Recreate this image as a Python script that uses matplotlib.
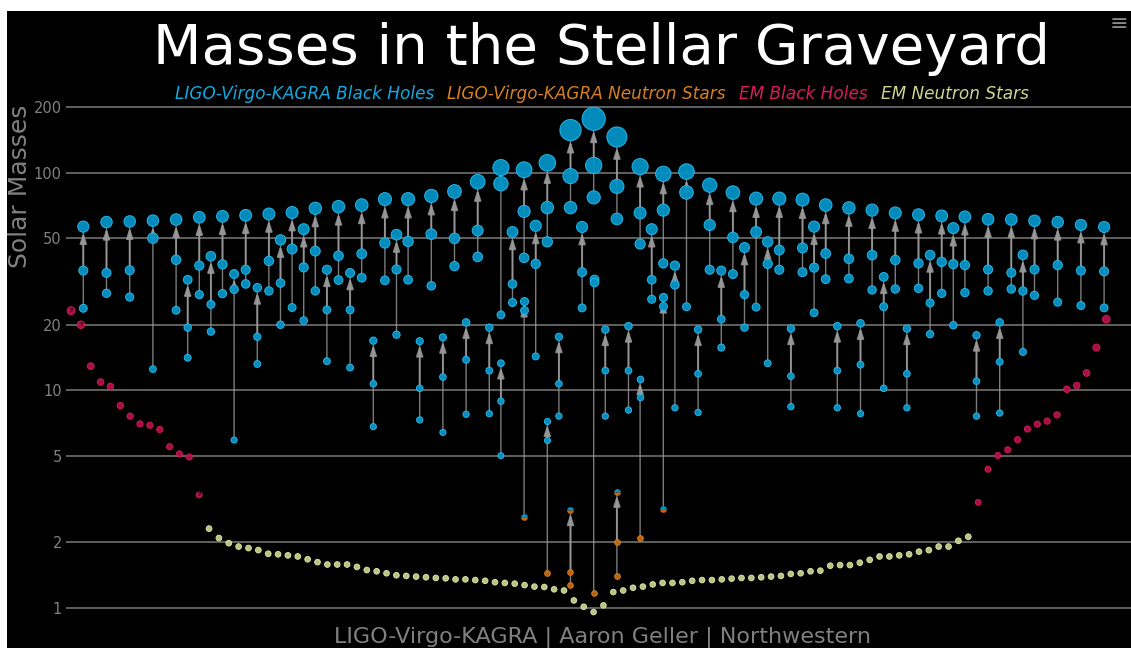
import matplotlib
matplotlib.use("Agg")
import matplotlib.pyplot as plt
import numpy as np
from matplotlib.patches import Rectangle

# ---------------------------------------------------------------------------
# Data (solar masses)
# ---------------------------------------------------------------------------

# LIGO-Virgo-KAGRA binary black holes: order along the x axis, remnant, primary, secondary
bh_order = [0, 2, 4, 6, 8, 9, 10, 11, 12, 13, 14, 15, 16, 17, 18, 19, 20, 21, 22, 23,
            24, 25, 26, 27, 28, 29, 30, 31, 32, 33, 34, 35, 36, 36, 37, 38, 39, 40, 41, 42,
            43, 44, 45, 46, 47, 48, 49, 50, 51, 52, 53, 54, 55, 56, 57, 58, 59, 60, 61, 62,
            63, 64, 65, 66, 67, 68, 69, 70, 71, 72, 73, 74, 75, 76, 77, 78, 79, 80, 81, 82,
            84, 86, 88]
bh_final = [56.5, 59.3, 59.7, 60.2, 60.9, 32.2, 62.4, 41.3, 63.0, 34.2, 63.7, 29.6, 64.6, 49.1,
            65.6, 55.0, 68.6, 35.8, 69.8, 34.6, 71.0, 16.9, 75.6, 51.9, 75.6, 16.8, 78.2, 17.5,
            82.0, 20.5, 90.9, 19.4, 105.6, 13.3, 53.4, 103.2, 57.0, 111.0, 17.6, 157.0, 56.3,
            177.0, 19.0, 146.0, 19.7, 106.6, 55.0, 98.8, 37.4, 101.2, 19.0, 87.6, 35.5, 81.0,
            45.3, 76.0, 48.1, 76.0, 19.2, 75.2, 56.5, 71.0, 19.7, 68.9, 20.3, 67.3, 33.2, 65.3,
            19.2, 64.1, 41.8, 63.3, 55.6, 62.7, 17.9, 61.1, 20.5, 60.9, 41.9, 60.1, 59.3, 57.5,
            56.3]
bh_m1 = [35.5, 34.6, 35.6, 50.0, 39.8, 19.4, 37.4, 24.8, 37.9, 29.1, 35.8, 17.6, 39.3, 31.1,
         44.6, 36.7, 43.6, 23.4, 41.5, 23.4, 42.4, 10.7, 47.5, 35.9, 48.3, 10.2, 52.2, 11.5,
         49.9, 13.8, 54.2, 12.3, 89.0, 8.9, 30.8, 66.4, 38.1, 69.1, 10.7, 96.5, 34.9, 108.0,
         12.3, 86.5, 12.3, 65.3, 32.2, 67.3, 30.5, 81.2, 11.9, 57.5, 21.2, 50.4, 27.5, 53.4,
         38.1, 44.1, 11.6, 45.1, 36.6, 42.5, 12.3, 40.2, 13.1, 41.8, 24.2, 39.7, 11.9, 38.3,
         25.2, 38.9, 38.0, 37.6, 11.0, 35.9, 13.5, 34.7, 28.6, 35.9, 37.6, 35.5, 35.2]
bh_m2 = [23.8, 27.9, 26.8, 12.5, 23.3, 14.1, 27.5, 18.6, 27.8, 5.9, 30.8, 13.2, 28.6, 20.0,
         24.0, 20.9, 28.6, 13.6, 32.1, 12.7, 32.9, 6.8, 32.0, 18.0, 32.2, 7.3, 30.2, 6.4,
         37.2, 7.75, 41.0, 7.8, 22.2, 5.0, 25.3, 40.6, 14.3, 48.1, 7.6, 69.1, 23.9, 77.0,
         7.6, 61.3, 8.1, 47.0, 26.2, 38.3, 8.3, 24.2, 7.9, 35.8, 15.7, 34.2, 19.4, 24.1,
         13.3, 35.8, 8.4, 34.9, 22.7, 32.4, 8.3, 32.6, 7.8, 28.9, 10.2, 29.2, 8.3, 29.4,
         18.1, 27.9, 19.9, 28.1, 7.6, 28.6, 7.85, 29.2, 15.0, 27.3, 25.4, 24.5, 23.9]

# LIGO-Virgo-KAGRA events with a neutron star (or mass-gap object)
ns_order = [38, 40, 42, 44, 46, 48, 50]
ns_final = [25.8, 7.2, 2.8, 32.6, 3.4, 11.25, 26.9]
ns_m1 = [23.4, 5.9, 1.46, 31.3, 2.0, 9.3, 24.4]
ns_m2 = [2.6, 1.44, 1.27, 1.17, 1.4, 2.1, 2.83]
ns_final_kind = ["bh", "bh", "gap", "bh", "gap", "bh", "bh"]
ns_m1_kind = ["bh", "bh", "ns", "bh", "ns", "bh", "bh"]
ns_m2_kind = ["gap", "ns", "ns", "ns", "ns", "ns", "gap"]

# Electromagnetic observations
em_bh_left = [23.2, 20.0, 12.9, 10.9, 10.4, 8.5, 7.6, 7.0, 6.9, 6.6, 5.5, 5.1, 4.93, 3.3]
em_bh_left_uncertain = [True, True, False, False, False, False, False, False, False, False,
                        False, False, False, True]
em_ns = [2.31, 2.09, 1.98, 1.91, 1.88, 1.84, 1.77, 1.76, 1.74, 1.72, 1.67, 1.62, 1.58, 1.58,
         1.58, 1.54, 1.49, 1.47, 1.44, 1.41, 1.40, 1.39, 1.38, 1.37, 1.365, 1.35, 1.35, 1.34,
         1.33, 1.31, 1.30, 1.29, 1.27, 1.25, 1.245, 1.215, 1.20, 1.08, 1.01, 0.955, 1.025,
         1.18, 1.20, 1.235, 1.25, 1.28, 1.30, 1.30, 1.31, 1.33, 1.34, 1.34, 1.35, 1.36, 1.37,
         1.37, 1.38, 1.39, 1.40, 1.43, 1.44, 1.47, 1.48, 1.56, 1.57, 1.57, 1.61, 1.66, 1.72,
         1.72, 1.74, 1.76, 1.81, 1.84, 1.91, 1.91, 2.03, 2.12]
em_bh_right = [3.05, 4.33, 5.01, 5.32, 5.92, 6.63, 6.98, 7.21, 7.7, 10.1, 10.5, 12.0, 15.7, 21.2]

y_ticks = [1, 2, 5, 10, 20, 50, 100, 200]

TITLE = "Masses in the Stellar Graveyard"
FOOTER = "LIGO-Virgo-KAGRA | Aaron Geller | Northwestern"
LEGEND = [
    ("LIGO-Virgo-KAGRA Black Holes", "#14a9de", 175),
    ("LIGO-Virgo-KAGRA Neutron Stars", "#d6801e", 447),
    ("EM Black Holes", "#d81b60", 739),
    ("EM Neutron Stars", "#cdd68f", 881),
]

# ---------------------------------------------------------------------------
# Styling
# ---------------------------------------------------------------------------

W, H = 1131, 648
PX = 72.0 / 100.0  # points per pixel at dpi=100

COLORS = {
    "bh": ("#0393c5", "#27b9ec"),
    "ns": ("#c2670f", "#d9811f"),
    "embh": ("#b0114a", "#cf1a5b"),
    "emns": ("#c3ce8b", "#dbe4a6"),
}
ARROW_COLOR = "#9a9a9a"
GRID_COLOR = "#7a7a7a"
TEXT_GRAY = "#808080"


def diameter_px(mass):
    return 6.5 + 0.1 * np.asarray(mass, dtype=float)


def scatter_points(ax, x, mass, kind, zorder):
    face, edge = COLORS[kind]
    d = diameter_px(mass)
    ax.scatter(x, mass, s=((d - 1.0) * PX) ** 2, facecolors=face, edgecolors=edge,
               linewidths=1.0 * PX, alpha=0.95, zorder=zorder)


def half_point(ax, x, mass, zorder):
    d = float(diameter_px(mass))
    ax.plot([x], [mass], marker="o", ms=d * PX, fillstyle="top", linestyle="none",
            markerfacecolor=COLORS["bh"][0], markerfacecoloralt=COLORS["ns"][0],
            markeredgewidth=0, zorder=zorder)


def draw_arrows(ax, x, final, m1, m2):
    r_pt = float(diameter_px(final)) / 2 * PX
    # secondary: plain line up to the remnant
    ax.annotate("", xy=(x, final), xytext=(x, m2),
                arrowprops=dict(arrowstyle="-", color=ARROW_COLOR, lw=1.0, alpha=0.8,
                                shrinkA=0, shrinkB=r_pt), zorder=2)
    gap_px = 217.5 * np.log10(final / m1)
    if gap_px > float(diameter_px(final)) / 2 + 3:
        style = "-|>,head_length=0.6,head_width=0.2"
    else:
        style = "-"
    ax.annotate("", xy=(x, final), xytext=(x, m1),
                arrowprops=dict(arrowstyle=style, mutation_scale=10, color=ARROW_COLOR,
                                lw=1.4, alpha=0.85, shrinkA=0, shrinkB=r_pt), zorder=2)


fig = plt.figure(figsize=(W / 100, H / 100), dpi=100, facecolor="white")
fig.patches.append(Rectangle((7 / W, 0), 1 - 7 / W, (H - 11) / H, transform=fig.transFigure,
                             facecolor="black", edgecolor="none", zorder=-5))

ax_bottom_px, ax_top_px = 648, 80
ax = fig.add_axes([66 / W, (H - ax_bottom_px) / H, 1 - 66 / W, (ax_bottom_px - ax_top_px) / H])
ax.set_facecolor("black")
ax.set_yscale("log")
ax.set_ylim(10 ** ((607.7 - ax_bottom_px) / 217.5), 10 ** ((607.7 - ax_top_px) / 217.5))
ax.set_xlim(-1.491, 90.319)

ax.set_yticks(y_ticks)
ax.set_yticklabels([str(t) for t in y_ticks])
ax.yaxis.set_minor_locator(matplotlib.ticker.NullLocator())
ax.tick_params(axis="y", length=0, pad=3, labelsize=10.5, labelcolor=TEXT_GRAY)
ax.set_xticks([])
for spine in ax.spines.values():
    spine.set_visible(False)
ax.grid(axis="y", color=GRID_COLOR, linewidth=1.1, zorder=0)
ax.set_axisbelow(True)

# arrows
for x, f, a, b in zip(bh_order, bh_final, bh_m1, bh_m2):
    draw_arrows(ax, x, f, a, b)
for x, f, a, b in zip(ns_order, ns_final, ns_m1, ns_m2):
    draw_arrows(ax, x, f, a, b)

# black hole mergers
scatter_points(ax, bh_order, bh_final, "bh", 4)
scatter_points(ax, bh_order + bh_order, bh_m1 + bh_m2, "bh", 5)

# neutron star events
for x, f, a, b, kf, ka, kb in zip(ns_order, ns_final, ns_m1, ns_m2,
                                  ns_final_kind, ns_m1_kind, ns_m2_kind):
    for mass, kind, z in ((f, kf, 4), (a, ka, 5), (b, kb, 5)):
        if kind == "gap":
            half_point(ax, x, mass, z)
        else:
            scatter_points(ax, [x], [mass], kind, z)

# EM objects, evenly spread along the bottom
em_all = em_bh_left + em_ns + em_bh_right
em_x = np.linspace(-1.06, 88.19, len(em_all))
n_left, n_ns = len(em_bh_left), len(em_ns)
scatter_points(ax, em_x[:n_left], em_bh_left, "embh", 3)
scatter_points(ax, em_x[n_left:n_left + n_ns], em_ns, "emns", 3)
scatter_points(ax, em_x[n_left + n_ns:], em_bh_right, "embh", 3)
for x, m, q in zip(em_x[:n_left], em_bh_left, em_bh_left_uncertain):
    if q:
        ax.text(x, m, "?", ha="center", va="center", fontsize=4.5, color="#2a0010",
                fontweight="bold", zorder=6)

# texts
fig.text(601.5 / W, (H - 64) / H, TITLE, ha="center", va="baseline", fontsize=40.5,
         color="white")
for label, color, left in LEGEND:
    fig.text(left / W, (H - 99) / H, label, ha="left", va="baseline", fontsize=12.2,
             style="italic", color=color)
fig.text(20 / W, (H - 186) / H, "Solar Masses", rotation=90, ha="center", va="center",
         fontsize=18, color=TEXT_GRAY)
fig.text(603 / W, (H - 642.5) / H, FOOTER, ha="center", va="baseline", fontsize=16,
         color=TEXT_GRAY)
fig.text(1119 / W, (H - 24) / H, "\u2261", ha="center", va="center", fontsize=16,
         color="#8a8a8a")

fig.savefig("out.png", dpi=100, facecolor=fig.get_facecolor())
